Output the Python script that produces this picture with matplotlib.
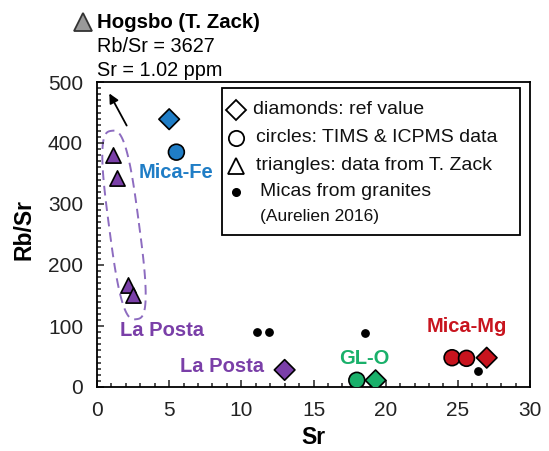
import numpy as np
import matplotlib

matplotlib.use("Agg")
import matplotlib.pyplot as plt
from matplotlib.patches import Rectangle, Polygon
from matplotlib.lines import Line2D
from matplotlib.ticker import MultipleLocator

plt.rcParams["font.family"] = ["Liberation Sans", "DejaVu Sans"]

# reference values (diamonds)
ref_sr = [5.0, 13.0, 19.3, 27.0]
ref_rbsr = [439, 28, 11, 48]
ref_colors = ["#1f7dc6", "#7a3fa8", "#19b06a", "#c8141e"]

# TIMS & ICPMS data (circles)
tims_sr = [5.5, 18.0, 24.6, 25.6]
tims_rbsr = [385, 11, 48, 47]
tims_colors = ["#1f7dc6", "#19b06a", "#c8141e", "#c8141e"]

# T. Zack data (triangles)
zack_sr = [1.1, 1.4, 2.15, 2.5]
zack_rbsr = [380, 343, 167, 151]

# micas from granites (Aurelien 2016)
gran_sr = [11.1, 11.9, 18.6, 26.4]
gran_rbsr = [90, 90, 88, 26]

purple = "#7a3fa8"

W, H = 549, 451
AX_L, AX_R, AX_T, AX_B = 97, 530, 82, 387


def px_to_data(px, py):
    return (px - AX_L) / (AX_R - AX_L) * 30, (AX_B - py) / (AX_B - AX_T) * 500


def axf(px, py):
    return (px - AX_L) / (AX_R - AX_L), (AX_B - py) / (AX_B - AX_T)


fig = plt.figure(figsize=(W / 100, H / 100), dpi=100)
ax = fig.add_axes([AX_L / W, 1 - AX_B / H, (AX_R - AX_L) / W, (AX_B - AX_T) / H])

ax.set_xlim(0, 30)
ax.set_ylim(0, 500)
ax.xaxis.set_major_locator(MultipleLocator(5))
ax.xaxis.set_minor_locator(MultipleLocator(1))
ax.yaxis.set_major_locator(MultipleLocator(100))
ax.yaxis.set_minor_locator(MultipleLocator(10))
ax.tick_params(which="both", direction="in", labelsize=15, width=1.1, colors="#222222")
ax.tick_params(which="major", length=5, pad=10)
ax.tick_params(which="minor", length=3)
for s in ax.spines.values():
    s.set_linewidth(1.3)
ax.set_xlabel("Sr", fontsize=16.5, fontweight="bold")
ax.set_ylabel("Rb/Sr", fontsize=16.5, fontweight="bold")
ax.xaxis.set_label_coords(0.5, axf(0, 426)[1])
ax.yaxis.set_label_coords(axf(36, 0)[0], axf(0, 230)[1])

# dashed envelope around the triangles
t = np.linspace(0, 2 * np.pi, 200)
n = 3.0
a, b = 15, 95
ex = a * np.sign(np.cos(t)) * np.abs(np.cos(t)) ** (2 / n)
ey = b * np.sign(np.sin(t)) * np.abs(np.sin(t)) ** (2 / n)
ang = np.deg2rad(-7.5)
cx, cy = 124, 225
rx = cx + ex * np.cos(ang) - ey * np.sin(ang)
ry = cy + ex * np.sin(ang) + ey * np.cos(ang)
dx, dy = px_to_data(rx, ry)
ax.add_patch(Polygon(np.column_stack([dx, dy]), closed=True, fill=False,
                     edgecolor="#8d6cc0", linestyle=(0, (5, 3)), linewidth=1.4))

# arrow pointing to Hogsbo (off scale)
ax.annotate("", xy=px_to_data(108, 91), xytext=px_to_data(128, 128),
            arrowprops=dict(arrowstyle="-|>", color="black", lw=1.3, mutation_scale=14))

ax.scatter(gran_sr, gran_rbsr, s=28, color="black", zorder=3)
ax.scatter(zack_sr, zack_rbsr, marker="^", s=120, color=purple, edgecolor="black",
           linewidth=1.2, zorder=4)
ax.scatter(tims_sr, tims_rbsr, marker="o", s=130, c=tims_colors, edgecolor="black",
           linewidth=1.2, zorder=4)
ax.scatter(ref_sr, ref_rbsr, marker="D", s=110, c=ref_colors, edgecolor="black",
           linewidth=1.2, zorder=5)

lab = dict(fontsize=14.5, fontweight="bold", ha="center", va="center")
ax.text(*px_to_data(176, 172), "Mica-Fe", color="#1f7dc6", **lab)
ax.text(*px_to_data(162, 330), "La Posta", color=purple, **lab)
ax.text(*px_to_data(222, 366), "La Posta", color=purple, **lab)
ax.text(*px_to_data(364, 358), "GL-O", color="#19b06a", **lab)
ax.text(*px_to_data(467, 327), "Mica-Mg", color="#c8141e", **lab)

# legend box drawn by hand
x0, y0 = axf(222, 235)
x1, y1 = axf(520, 88)
ax.add_patch(Rectangle((x0, y0), x1 - x0, y1 - y0, transform=ax.transAxes,
                       fill=True, facecolor="white", edgecolor="black", linewidth=1.3, zorder=6))
rows = [("D", "diamonds: ref value", 110, 253, 10),
        ("o", "circles: TIMS & ICPMS data", 138, 256, 11),
        ("^", "triangles: data from T. Zack", 166, 256, 12),
        (".", "Micas from granites", 192, 260, 11)]
for mk, txt, py, tx, ms in rows:
    mx, my = axf(236, py)
    if mk == ".":
        ax.plot(mx, my, "o", ms=5.5, color="black", transform=ax.transAxes, zorder=7)
    else:
        ax.plot(mx, my, mk, ms=ms, mfc="white", mec="black", mew=1.3,
                transform=ax.transAxes, zorder=7)
    ax.text(*axf(tx, py), txt, fontsize=14, va="center", ha="left",
            transform=ax.transAxes, zorder=7, color="#111111")
ax.text(*axf(260, 217), "(Aurelien 2016)", fontsize=12.5, va="center", ha="left",
        transform=ax.transAxes, zorder=7, color="#111111")

# Hogsbo header above the axes
fig.add_artist(Line2D([83 / W], [1 - 22 / H], marker="^", markersize=13,
                      markerfacecolor="#999999", markeredgecolor="#333333",
                      markeredgewidth=1.3, transform=fig.transFigure))
fig.text(97 / W, 1 - 22 / H, "Hogsbo (T. Zack)", fontsize=14.7, fontweight="bold", va="center")
fig.text(97 / W, 1 - 47 / H, "Rb/Sr = 3627", fontsize=14.3, va="center")
fig.text(97 / W, 1 - 71 / H, "Sr = 1.02 ppm", fontsize=14.3, va="center")

fig.savefig("out.png", dpi=100)
